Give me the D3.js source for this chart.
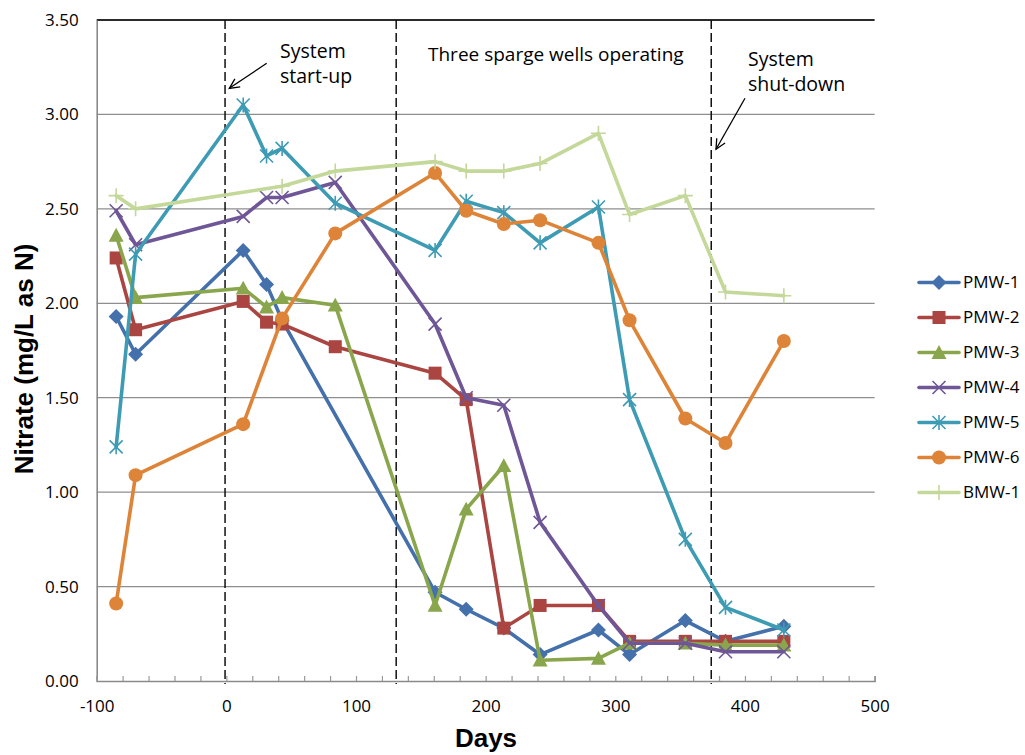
<!DOCTYPE html>
<html>
<head>
<meta charset="utf-8">
<script src="https://cdn.jsdelivr.net/npm/d3@7"></script>
<style>
  html, body { margin: 0; padding: 0; background: #fff; }
  svg { display: block; }
  text { font-family: "Open Sans", "Liberation Sans", sans-serif; fill: #000; }
</style>
</head>
<body>
<svg id="chart" width="1025" height="755"></svg>
<script>
// ---------------- data ----------------
const days = [-85, -70, 13, 31, 43, 84, 161, 185, 214, 242, 287, 311, 354, 385, 430];
const pmw1 = [1.93, 1.73, 2.28, 2.10, 1.91, null, 0.47, 0.38, 0.28, 0.14, 0.27, 0.14, 0.32, 0.21, 0.29];
const pmw2 = [2.24, 1.86, 2.01, 1.90, 1.89, 1.77, 1.63, 1.49, 0.28, 0.40, 0.40, 0.21, 0.21, 0.21, 0.21];
const pmw3 = [2.36, 2.03, 2.08, 1.98, 2.03, 1.99, 0.40, 0.91, 1.14, 0.11, 0.12, 0.20, 0.20, 0.19, 0.19];
const pmw4 = [2.49, 2.31, 2.46, 2.56, 2.56, 2.64, 1.89, 1.50, 1.46, 0.84, 0.40, 0.20, 0.20, 0.155, 0.155];
const pmw5 = [1.24, 2.26, 3.05, 2.78, 2.82, 2.53, 2.28, 2.54, 2.48, 2.32, 2.51, 1.49, 0.75, 0.39, 0.27];
const pmw6 = [0.41, 1.09, 1.36, null, 1.92, 2.37, 2.69, 2.49, 2.42, 2.44, 2.32, 1.91, 1.39, 1.26, 1.80];
const bmw1 = [2.57, 2.50, null, null, 2.62, 2.70, 2.75, 2.70, 2.70, 2.74, 2.90, 2.47, 2.57, 2.06, 2.04];

const seriesNames = ["PMW-1", "PMW-2", "PMW-3", "PMW-4", "PMW-5", "PMW-6", "BMW-1"];
const seriesValues = [pmw1, pmw2, pmw3, pmw4, pmw5, pmw6, bmw1];
const seriesColors = ["#4470AB", "#AA4542", "#89A64C", "#6F5696", "#3E9BB4", "#DE8438", "#C3D899"];
const seriesMarkers = ["diamond", "square", "triangle", "x", "asterisk", "circle", "plus"];

const xTicks = [-100, 0, 100, 200, 300, 400, 500];
const yTicks = [0, 0.5, 1, 1.5, 2, 2.5, 3, 3.5];
const phaseDays = [-1, 131, 374];

// ---------------- layout ----------------
const svg = d3.select("#chart");
const pLeft = 96.7, pRight = 874.6, pTop = 20, pBottom = 681;

const x = d3.scaleLinear().domain([-100, 500]).range([pLeft, pRight]);
const y = d3.scaleLinear().domain([0, 3.5]).range([pBottom, pTop]);

// gridlines
svg.append("g").selectAll("line").data(yTicks.filter(v => v > 0)).join("line")
  .attr("x1", pLeft).attr("x2", pRight)
  .attr("y1", d => y(d)).attr("y2", d => y(d))
  .attr("stroke", d => d === 3.5 ? "#2a2a2a" : "#8e8e8e")
  .attr("stroke-width", d => d === 3.5 ? 1.8 : 1.3);

// y axis
const yAxis = d3.axisLeft(y).tickValues(yTicks).tickFormat(d3.format(".2f")).tickSize(0).tickPadding(18);
const gy = svg.append("g").attr("transform", `translate(${pLeft},0)`).call(yAxis);
gy.select(".domain").attr("stroke", "#8a8a8a").attr("stroke-width", 1.6);
gy.selectAll("text").style("font-size", "17px").style("font-family", "'Open Sans', sans-serif").attr("fill", "#000");

// x axis with inward minor ticks
const xAxis = d3.axisBottom(x).tickValues(d3.range(-100, 501, 20)).tickSize(-5)
  .tickFormat(d => xTicks.includes(d) ? d : "").tickPadding(19);
const gx = svg.append("g").attr("transform", `translate(0,${pBottom})`).call(xAxis);
gx.select(".domain").attr("stroke", "#8a8a8a").attr("stroke-width", 1.6);
gx.selectAll(".tick line").attr("stroke", "#9a9a9a").attr("stroke-width", 1.2);
gx.selectAll("text").style("font-size", "17px").style("font-family", "'Open Sans', sans-serif").attr("fill", "#000");

// phase dashed lines
svg.append("g").selectAll("line").data(phaseDays).join("line")
  .attr("x1", d => x(d)).attr("x2", d => x(d))
  .attr("y1", pTop).attr("y2", pBottom + 3)
  .attr("stroke", "#111").attr("stroke-width", 1.5)
  .attr("stroke-dasharray", "9,4");

// axis titles
svg.append("text").attr("x", 486).attr("y", 747).attr("text-anchor", "middle")
  .style("font-family", "'Liberation Sans', Arial, sans-serif").style("font-weight", "bold").style("font-size", "26px")
  .text("Days");
svg.append("text").attr("transform", "translate(33,359) rotate(-90)").attr("text-anchor", "middle")
  .style("font-family", "'Liberation Sans', Arial, sans-serif").style("font-weight", "bold").style("font-size", "26px")
  .text("Nitrate (mg/L as N)");

// annotations
const ann = svg.append("g").style("font-size", "19.5px");
ann.append("text").attr("x", 280).attr("y", 58).text("System");
ann.append("text").attr("x", 280).attr("y", 83).text("start-up");
ann.append("text").attr("x", 428).attr("y", 61).style("font-size", "19px").text("Three sparge wells operating");
ann.append("text").attr("x", 748).attr("y", 66).text("System");
ann.append("text").attr("x", 748).attr("y", 91).text("shut-down");

function arrow(x1, y1, x2, y2) {
  const g = svg.append("g").attr("stroke", "#000").attr("stroke-width", 1.3).attr("fill", "none");
  g.append("line").attr("x1", x1).attr("y1", y1).attr("x2", x2).attr("y2", y2);
  const a = Math.atan2(y2 - y1, x2 - x1), L = 11, w = 0.45;
  const p1 = [x2 - L * Math.cos(a - w), y2 - L * Math.sin(a - w)];
  const p2 = [x2 - L * Math.cos(a + w), y2 - L * Math.sin(a + w)];
  g.append("path").attr("d", `M${p1[0]},${p1[1]}L${x2},${y2}L${p2[0]},${p2[1]}`);
}
arrow(266.7, 63.3, 229.3, 88.3);
arrow(745, 98.3, 716, 149.3);

// markers
function marker(g, type, cx, cy, color, s) {
  s = s || 1;
  if (type === "diamond") {
    const r = 7.5 * s;
    g.append("path").attr("d", `M${cx},${cy - r}L${cx + r},${cy}L${cx},${cy + r}L${cx - r},${cy}Z`).attr("fill", color);
  } else if (type === "square") {
    const r = 6.5 * s;
    g.append("rect").attr("x", cx - r).attr("y", cy - r).attr("width", 2 * r).attr("height", 2 * r).attr("fill", color);
  } else if (type === "triangle") {
    const r = 7.5 * s;
    g.append("path").attr("d", `M${cx},${cy - r}L${cx + r},${cy + r * 0.85}L${cx - r},${cy + r * 0.85}Z`).attr("fill", color);
  } else if (type === "circle") {
    g.append("circle").attr("cx", cx).attr("cy", cy).attr("r", 7 * s).attr("fill", color);
  } else if (type === "x") {
    const r = 6.5 * s;
    g.append("path").attr("d", `M${cx - r},${cy - r}L${cx + r},${cy + r}M${cx - r},${cy + r}L${cx + r},${cy - r}`)
      .attr("stroke", color).attr("stroke-width", 1.6).attr("fill", "none");
  } else if (type === "asterisk") {
    const r = 6.5 * s;
    g.append("path").attr("d", `M${cx - r},${cy - r}L${cx + r},${cy + r}M${cx - r},${cy + r}L${cx + r},${cy - r}M${cx},${cy - r - 1}L${cx},${cy + r + 1}`)
      .attr("stroke", color).attr("stroke-width", 1.6).attr("fill", "none");
  } else if (type === "plus") {
    const r = 7.5 * s;
    g.append("path").attr("d", `M${cx - r},${cy}L${cx + r},${cy}M${cx},${cy - r}L${cx},${cy + r}`)
      .attr("stroke", color).attr("stroke-width", 1.6).attr("fill", "none");
  }
}

// series
const line = d3.line().x(d => x(d[0])).y(d => y(d[1]));
seriesValues.forEach((vals, i) => {
  const pts = days.map((d, j) => [d, vals[j]]).filter(p => p[1] !== null);
  const g = svg.append("g");
  g.append("path").attr("d", line(pts)).attr("fill", "none")
    .attr("stroke", seriesColors[i]).attr("stroke-width", 3.6)
    .attr("stroke-linejoin", "round").attr("stroke-linecap", "round");
  pts.forEach(p => marker(g, seriesMarkers[i], x(p[0]), y(p[1]), seriesColors[i]));
});

// legend
const leg = svg.append("g");
seriesNames.forEach((n, i) => {
  const cy = 282.5 + i * 35;
  const g = leg.append("g");
  g.append("line").attr("x1", 919).attr("x2", 959).attr("y1", cy).attr("y2", cy)
    .attr("stroke", seriesColors[i]).attr("stroke-width", 3.6).attr("stroke-linecap", "round");
  marker(g, seriesMarkers[i], 939, cy, seriesColors[i]);
  g.append("text").attr("x", 963).attr("y", cy).attr("dy", "0.35em")
    .style("font-size", "17px").text(n);
});
</script>
</body>
</html>
